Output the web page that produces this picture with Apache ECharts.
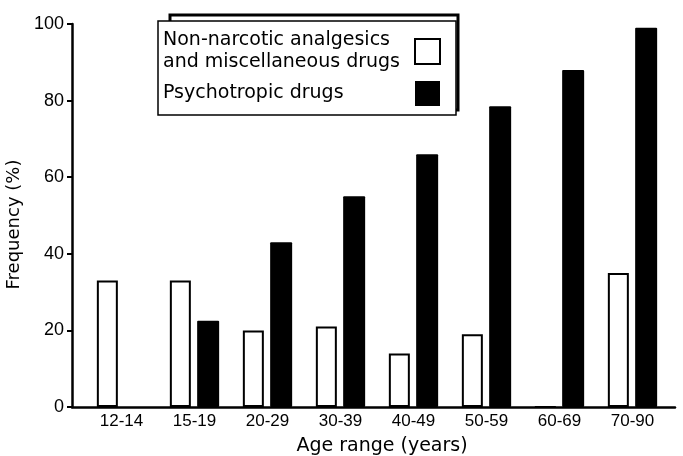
<!DOCTYPE html>
<html><head><meta charset="utf-8">
<script src="https://cdn.jsdelivr.net/npm/echarts@6/dist/echarts.min.js"></script>
<style>html,body{margin:0;padding:0;background:#fff}#c{width:683px;height:456px}</style>
</head><body><div id="c"></div>
<script>
const categories = ['12-14','15-19','20-29','30-39','40-49','50-59','60-69','70-90'];
const nonNarcotic = [33, 33, 20, 21, 14, 19, 0, 35];
const psychotropic = [0, 22.5, 43, 55, 66, 78.5, 88, 99];
const yTicks = [0, 20, 40, 60, 80, 100];
const seriesNames = ['Non-narcotic analgesics\nand miscellaneous drugs', 'Psychotropic drugs'];

const FONT = 'Liberation Sans';
const TFONT = 'DejaVu Sans';
const chart = echarts.init(document.getElementById('c'));
chart.setOption({
  animation: false,
  backgroundColor: '#fff',
  textStyle: {fontFamily: FONT, color: '#000'},
  grid: [
    {left: 72, right: 8, top: 24, bottom: 49, outerBoundsMode: 'none', containLabel: false},
    {left: 85, right: 14, top: 24, bottom: 49, outerBoundsMode: 'none', containLabel: false}
  ],
  xAxis: [
    {type: 'value', gridIndex: 0, min: 0, max: 1,
     axisLine: {show: true, lineStyle: {color: '#000', width: 2.5}},
     axisTick: {show: false}, axisLabel: {show: false}, splitLine: {show: false}},
    {type: 'category', gridIndex: 1, data: categories,
     axisLine: {show: false}, axisTick: {show: false},
     axisLabel: {color: '#000', fontSize: 17, fontFamily: FONT, margin: 6},
     name: 'Age range (years)', nameLocation: 'middle', nameGap: 30,
     nameTextStyle: {color: '#000', fontSize: 19, fontFamily: TFONT, padding: [0, 0, 0, 10]}}
  ],
  yAxis: [
    {type: 'value', gridIndex: 0, min: 0, max: 100, interval: 20,
     axisLine: {show: true, lineStyle: {color: '#000', width: 2.5}},
     axisTick: {show: true, inside: false, length: 5, lineStyle: {color: '#000', width: 2}},
     axisLabel: {color: '#000', fontSize: 18, fontFamily: FONT, margin: 8,
       formatter: v => yTicks.includes(v) ? String(v) : ''},
     splitLine: {show: false},
     name: 'Frequency (%)', nameLocation: 'middle', nameGap: 44, nameRotate: 90,
     nameTextStyle: {color: '#000', fontSize: 18, fontFamily: TFONT, padding: [0, 0, 0, -18]}},
    {type: 'value', gridIndex: 1, min: 0, max: 100, show: false}
  ],
  legend: {
    orient: 'vertical', left: 158, top: 21,
    align: 'right', icon: 'rect', itemWidth: 25, itemHeight: 25, itemGap: 9,
    padding: [10, 15, 9, 5],
    backgroundColor: '#fff', borderColor: '#000', borderWidth: 1.5,
    formatter: n => n.split('\n').map(l => '{a|' + l + '}').join('\n'),
    textStyle: {color: '#000', fontSize: 19, fontFamily: TFONT,
      rich: {a: {width: 247, align: 'left', fontSize: 19, fontFamily: TFONT, lineHeight: 22, color: '#000'}}},
    data: [
      {name: seriesNames[0], itemStyle: {color: '#fff', borderColor: '#000', borderWidth: 2}},
      {name: seriesNames[1], itemStyle: {color: '#000'}}
    ],
    selectedMode: false, z: 10
  },
  graphic: [
    {type: 'rect', z: 1, shape: {x: 170, y: 15, width: 288, height: 95},
     style: {fill: 'none', stroke: '#000', lineWidth: 3}}
  ],
  series: [
    {name: seriesNames[0], type: 'bar', xAxisIndex: 1, yAxisIndex: 1, data: nonNarcotic,
     barWidth: 21, barGap: '30%',
     itemStyle: {color: '#fff', borderColor: '#000', borderWidth: 2}},
    {name: seriesNames[1], type: 'bar', xAxisIndex: 1, yAxisIndex: 1, data: psychotropic,
     barWidth: 22,
     itemStyle: {color: '#000', borderRadius: 1}}
  ]
});
</script></body></html>
